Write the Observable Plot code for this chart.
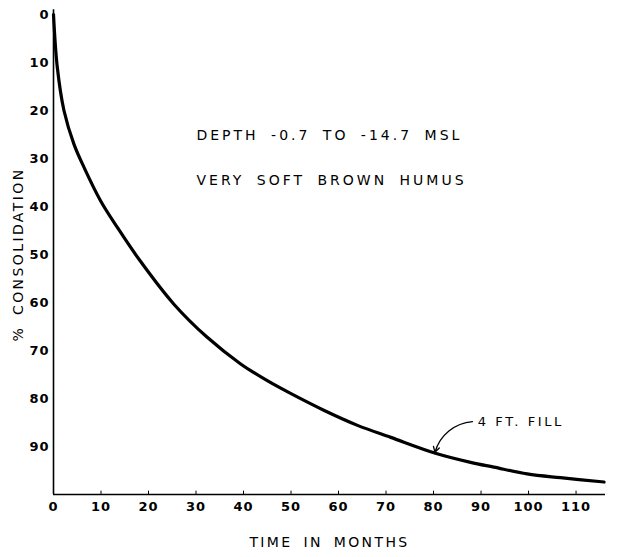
<!DOCTYPE html>
<html>
<head>
<meta charset="utf-8">
<script src="https://cdn.jsdelivr.net/npm/d3@7"></script>
<script src="https://cdn.jsdelivr.net/npm/@observablehq/plot@0.6"></script>
<style>
  html, body { margin: 0; padding: 0; background: #fff; }
  #chart svg { display: block; }
</style>
</head>
<body>
<div id="chart"></div>
<script>
// Data
const months = [0, 0.8, 2.2, 4.3, 6.4, 9.9, 13.4, 18, 25.3, 32.3, 39.4, 45, 50, 57, 64, 71, 80.4, 87.8, 92.7, 99.7, 106.7, 115.9];
const consolidation = [0, 11, 20, 27, 31.8, 38.8, 44.3, 51, 60.3, 67.2, 72.8, 76.3, 79, 82.5, 85.6, 88.1, 91.4, 93.3, 94.3, 95.7, 96.5, 97.4];
const xTicks = [0, 10, 20, 30, 40, 50, 60, 70, 80, 90, 100, 110];
const yTicks = [0, 10, 20, 30, 40, 50, 60, 70, 80, 90];
const noteLines = ["DEPTH -0.7 TO -14.7 MSL", "VERY SOFT BROWN HUMUS"];
const noteMonth = [30.1, 30.1];
const notePct = [25.2, 34.6];
const fillLabel = "4 FT. FILL";
const fillText = {month: 89.3, pct: 84.8};
const fillArrow = {m1: 88.2, p1: 84.8, m2: 80.3, p2: 91.2};

const curve = months.map((m, i) => ({month: m, pct: consolidation[i]}));
const notes = noteLines.map((t, i) => ({text: t, month: noteMonth[i], pct: notePct[i]}));

const font = "DejaVu Sans, sans-serif";

const chart = Plot.plot({
  width: 619,
  height: 557,
  marginLeft: 53,
  marginRight: 14,
  marginTop: 14,
  marginBottom: 63,
  style: {fontFamily: font, color: "#000", background: "#fff"},
  x: {domain: [0, 116.2]},
  y: {domain: [0, 100], reverse: true},
  marks: [
    Plot.axisX({ticks: xTicks, tickSize: 0, tickPadding: 7, fontSize: 13, fontWeight: 600,
      label: "TIME IN MONTHS", labelArrow: "none", labelAnchor: "center", labelOffset: 52, tickFormat: d => String(d)}),
    Plot.axisY({ticks: yTicks, tickSize: 0, tickPadding: 4, fontSize: 13, fontWeight: 600,
      label: "% CONSOLIDATION", labelArrow: "none", labelAnchor: "center", labelOffset: 40, tickFormat: d => String(d)}),
    Plot.ruleX(xTicks, {x: d => d, y1: 100, y2: 99.3, stroke: "#000", strokeWidth: 1}),
    Plot.ruleX([0], {y1: -1, y2: 100, stroke: "#000", strokeWidth: 1.6}),
    Plot.ruleY([100], {x1: 0, x2: 116.2, stroke: "#000", strokeWidth: 1.6}),
    Plot.line(curve, {x: "month", y: "pct", curve: "catmull-rom", stroke: "#000", strokeWidth: 3.2, strokeLinecap: "round"}),
    Plot.text(notes, {x: "month", y: "pct", text: "text", textAnchor: "start", fontSize: 14, fill: "#000"}),
    Plot.text([fillText], {x: "month", y: "pct", text: () => fillLabel, textAnchor: "start", fontSize: 13, fill: "#000"}),
    Plot.arrow([fillArrow], {x1: "m1", y1: "p1", x2: "m2", y2: "p2", bend: -35, stroke: "#000", strokeWidth: 1.3, headLength: 7})
  ]
});

document.getElementById("chart").appendChild(chart);
const svg = d3.select(chart);
const textGroups = svg.selectAll('g[aria-label="text"]').nodes();
if (textGroups[0]) d3.select(textGroups[0]).selectAll("text").style("letter-spacing", "3px").style("word-spacing", "5px");
if (textGroups[1]) d3.select(textGroups[1]).selectAll("text").style("letter-spacing", "2.6px");
svg.selectAll('g[aria-label="x-axis label"] text, g[aria-label="y-axis label"] text')
  .text(function() { return d3.select(this).text().replace(/[←→↑↓]/g, "").trim(); })
  .style("letter-spacing", "2.4px").style("word-spacing", "4px").style("font-size", "14px").style("font-weight", "normal");
svg.selectAll('g[aria-label="x-axis tick label"] text, g[aria-label="y-axis tick label"] text').style("letter-spacing", "1px");
</script>
</body>
</html>
